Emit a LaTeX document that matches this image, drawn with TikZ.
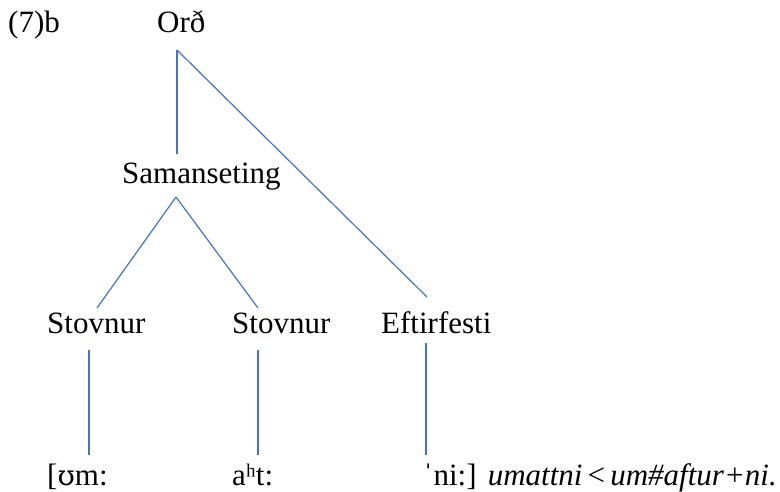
\documentclass[tikz,border=0pt]{standalone}
\usepackage{fontspec}
\setmainfont{Liberation Serif}
\newfontfamily\ipafont{DejaVu Serif}
\definecolor{treeblue}{HTML}{4472C4}
\begin{document}
\begin{tikzpicture}[x=1pt,y=-1pt,
  lbl/.style={anchor=base west,inner sep=0pt,font=\fontsize{31}{37}\selectfont},
  branch/.style={draw=treeblue,line width=1.2pt}]
\useasboundingbox (0,0) rectangle (780,491);
% labels
\node[lbl] (ex) at (8,32) {(7)b};
\node[lbl] (ord) at (157,32) {Orð};
\node[lbl] (saman) at (122,183) {Samanseting};
\node[lbl] (st1) at (47,333) {Stovnur};
\node[lbl] (st2) at (232,333) {Stovnur};
\node[lbl] (eft) at (381,333) {Eftirfesti};
\node[lbl] (p1) at (47,485) {[{\ipafont\fontsize{28}{34}\selectfont ʊ}m:};
\node[lbl] (p2) at (232,485) {aʰt:};
\node[lbl] (p3) at (423,485) {ˈni:]};
\node[lbl,anchor=base east] (p4) at (777,485) {\textit{umattni}\,<\,\textit{um\#aftur+ni.}};
% connector end points
\coordinate (ordB) at (177,50);
\coordinate (samT) at (177,154);
\coordinate (samB) at (176,197);
\coordinate (st1T) at (97,308);
\coordinate (st2T) at (258,308);
\coordinate (eftT) at (427,297);
\coordinate (st1B) at (89,350);
\coordinate (p1T) at (89,455);
\coordinate (st2B) at (258,350);
\coordinate (p2T) at (258,455);
\coordinate (eftB) at (426,343);
\coordinate (p3T) at (426,455);
% branches
\draw[branch] (ordB) -- (samT);
\draw[branch] (ordB) -- (eftT);
\draw[branch] (samB) -- (st1T);
\draw[branch] (samB) -- (st2T);
\draw[branch] (st1B) -- (p1T);
\draw[branch] (st2B) -- (p2T);
\draw[branch] (eftB) -- (p3T);
\end{tikzpicture}
\end{document}
